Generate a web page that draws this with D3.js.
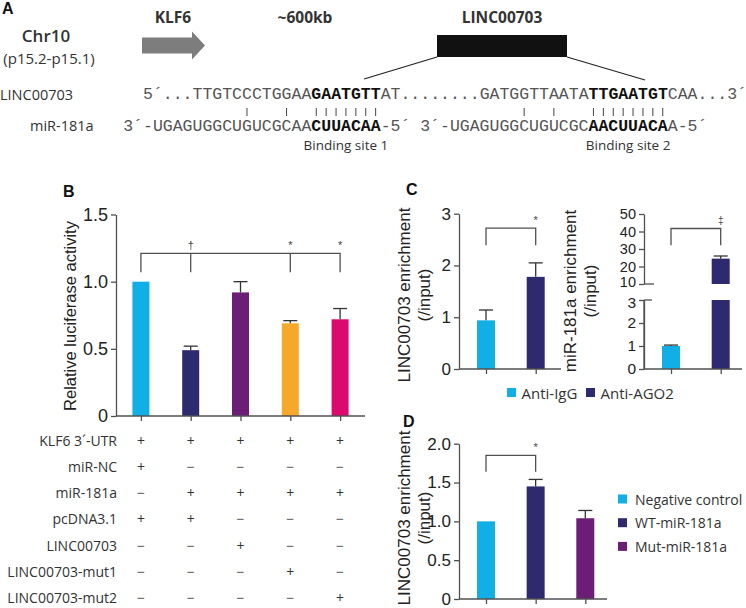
<!DOCTYPE html>
<html><head><meta charset="utf-8">
<script src="https://cdn.jsdelivr.net/npm/d3@7"></script>
<style>
body{margin:0;background:#fff;}
svg{display:block;}
.sans{font-family:"Open Sans",sans-serif;}
.arial{font-family:"Liberation Sans",Arial,sans-serif;}
.mono{font-family:"Liberation Mono",monospace;}
</style></head>
<body>
<svg id="fig" width="746" height="608"></svg>
<script>
// ---------------- data ----------------
const colors = ["#12afe6", "#2e2a70", "#6c1e77", "#f6a82a", "#dc0a6e"];

// Panel A sequences
const seqRow1 = [["5´...TTGTCCCTGGAA",0],["GAATGTT",1],["AT........GATGGTTAATA",0],["TTGAATGT",1],["CAA...3´",0]];
const seqRow2a = [["3´-UGAGUGGCUGUCGCAA",0],["CUUACAA",1],["-5´",0]];
const seqRow2b = [["3´-UGAGUGGCUGUCGC",0],["AACUUACA",1],["A-5´",0]];
const pairIdx = [10,14,17,18,19,20,21,22,23,38,41,45,46,47,48,49,50,51,52];

// Panel B
const bGroups = ["G1","G2","G3","G4","G5"];
const bValues = [1.0, 0.49, 0.92, 0.69, 0.72];
const bErrors = [0, 0.03, 0.08, 0.02, 0.08];
const bTicks = [0, 0.5, 1.0, 1.5];
const bTickLabels = ["0","0.5","1.0","1.5"];
const bSig = [null, "†", null, "*", "*"];
const rowLabels = ["KLF6 3´-UTR","miR-NC","miR-181a","pcDNA3.1","LINC00703","LINC00703-mut1","LINC00703-mut2"];
const rowSigns = [
  ["+","+","+","+","+"],
  ["+","−","−","−","−"],
  ["−","+","+","+","+"],
  ["+","+","−","−","−"],
  ["−","−","+","−","−"],
  ["−","−","−","+","−"],
  ["−","−","−","−","+"]
];

// Panel C
const cGroups = ["Anti-IgG","Anti-AGO2"];
const cLincValues = [0.94, 1.78];
const cLincErrors = [0.20, 0.27];
const cLincTicks = [0,1,2,3];
const cMirValues = [1.0, 24.5];
const cMirErrors = [0.04, 1.5];
const cMirLowTicks = [0,1,2,3];
const cMirHighTicks = [10,20,30,40,50];

// Panel D
const dGroups = ["Negative control","WT-miR-181a","Mut-miR-181a"];
const dValues = [1.0, 1.45, 1.04];
const dErrors = [0, 0.09, 0.10];
const dTicks = [0, 0.5, 1.0, 1.5, 2.0];
const dTickLabels = ["0","0.5","1.0","1.5","2.0"];

// ---------------- drawing ----------------
const svg = d3.select("#fig");
const AX = "#505050";
const TXT = "#222";

function panelLetter(t, x, y){
  svg.append("text").attr("class","arial").attr("x",x).attr("y",y)
    .attr("font-size",16).attr("font-weight","bold").attr("fill","#111").text(t);
}

// ===== Panel A =====
panelLetter("A", 2, 14);
svg.append("text").attr("class","sans").attr("x",46).attr("y",42).attr("text-anchor","middle")
  .attr("font-size",17).attr("font-weight",600).attr("fill","#333").text("Chr10");
svg.append("text").attr("class","sans").attr("x",49).attr("y",64).attr("text-anchor","middle")
  .attr("font-size",15).attr("fill","#333").text("(p15.2-p15.1)");
svg.append("text").attr("class","sans").attr("x",173).attr("y",23).attr("text-anchor","middle")
  .attr("font-size",15.5).attr("font-weight","bold").attr("fill","#333").text("KLF6");
svg.append("text").attr("class","sans").attr("x",305).attr("y",23).attr("text-anchor","middle")
  .attr("font-size",15.5).attr("font-weight","bold").attr("fill","#333").text("~600kb");
svg.append("text").attr("class","sans").attr("x",502).attr("y",23).attr("text-anchor","middle")
  .attr("font-size",15.5).attr("font-weight","bold").attr("fill","#333").text("LINC00703");
// arrow
svg.append("path").attr("d","M142,37.5 L192,37.5 L192,31.5 L205,45.5 L192,59.5 L192,53.5 L142,53.5 Z")
  .attr("fill","#7d7d7d");
// black box
svg.append("rect").attr("x",437).attr("y",35).attr("width",130).attr("height",22).attr("fill","#111");
svg.append("line").attr("x1",437).attr("y1",57).attr("x2",364).attr("y2",79).attr("stroke","#222").attr("stroke-width",1.2);
svg.append("line").attr("x1",567).attr("y1",57).attr("x2",645).attr("y2",80).attr("stroke","#222").attr("stroke-width",1.2);

svg.append("text").attr("class","sans").attr("x",0).attr("y",100).attr("font-size",14.5).attr("fill","#333").text("LINC00703");
svg.append("text").attr("class","sans").attr("x",30).attr("y",131).attr("font-size",14.5).attr("fill","#333").text("miR-181a");

const CW = 9.9, S0 = 143;
function seq(parts, x, y){
  const t = svg.append("text").attr("class","mono").attr("x",x).attr("y",y).attr("font-size",16.5);
  parts.forEach(p=>{
    t.append("tspan").attr("font-weight",p[1]?"bold":"normal").attr("fill",p[1]?"#111":"#555").text(p[0]);
  });
}
seq(seqRow1, S0, 98.5);
seq(seqRow2a, S0 - 2*CW, 131);
seq(seqRow2b, S0 + 28*CW, 131);
svg.selectAll(".pair").data(pairIdx).enter().append("line").attr("class","pair")
  .attr("x1",d=>S0+(d+0.5)*CW).attr("x2",d=>S0+(d+0.5)*CW)
  .attr("y1",108).attr("y2",116).attr("stroke","#444").attr("stroke-width",1);
svg.append("text").attr("class","sans").attr("x",S0+20.5*CW).attr("y",150).attr("text-anchor","middle")
  .attr("font-size",13.5).attr("fill","#333").text("Binding site 1");
svg.append("text").attr("class","sans").attr("x",S0+49*CW).attr("y",150).attr("text-anchor","middle")
  .attr("font-size",13.5).attr("fill","#333").text("Binding site 2");

// helpers
function styleAxis(g){
  g.selectAll("path,line").attr("stroke",AX).attr("stroke-width",1.3);
  g.selectAll("text").attr("fill",TXT).attr("font-family","'Liberation Sans',Arial,sans-serif");
}
function yAxis(scale, x, ticks, labels, fs){
  const g = svg.append("g").attr("transform",`translate(${x},0)`)
    .call(d3.axisLeft(scale).tickValues(ticks).tickSize(5).tickSizeOuter(0).tickPadding(3)
      .tickFormat((d,i)=>labels? labels[i] : d));
  styleAxis(g);
  g.selectAll("text").attr("font-size",fs);
  return g;
}
function xAxis(scale, y, x1, x2){
  const g = svg.append("g").attr("transform",`translate(0,${y})`)
    .call(d3.axisBottom(scale).tickSize(5).tickSizeOuter(0).tickFormat(""));
  g.select(".domain").remove();
  g.append("line").attr("x1",x1).attr("x2",x2).attr("y1",0).attr("y2",0);
  styleAxis(g);
  return g;
}
function bars(xs, ys, groups, vals, errs, cols, w){
  groups.forEach((gname,i)=>{
    const cx = xs(gname);
    svg.append("rect").attr("x",cx-w/2).attr("width",w)
      .attr("y",ys(vals[i])).attr("height",ys(0)-ys(vals[i])).attr("fill",cols[i]);
    if(errs[i]>0){
      const top = ys(vals[i]+errs[i]);
      svg.append("line").attr("x1",cx).attr("x2",cx).attr("y1",ys(vals[i])).attr("y2",top).attr("stroke","#333").attr("stroke-width",1.3);
      svg.append("line").attr("x1",cx-7).attr("x2",cx+7).attr("y1",top).attr("y2",top).attr("stroke","#333").attr("stroke-width",1.3);
    }
  });
}
function bracket(xList, yTop, yBot){
  const p = d3.path();
  p.moveTo(xList[0], yBot); p.lineTo(xList[0], yTop); p.lineTo(xList[xList.length-1], yTop); p.lineTo(xList[xList.length-1], yBot);
  svg.append("path").attr("d",p.toString()).attr("fill","none").attr("stroke",AX).attr("stroke-width",1.3);
  xList.slice(1,-1).forEach(x=>{
    svg.append("line").attr("x1",x).attr("x2",x).attr("y1",yTop).attr("y2",yBot).attr("stroke",AX).attr("stroke-width",1.3);
  });
}
function sigText(t, x, y, fs){
  svg.append("text").attr("class","arial").attr("x",x).attr("y",y).attr("text-anchor","middle")
    .attr("font-size",fs||11).attr("fill","#444").text(t);
}
function rotLabel(lines, x0, dx, cy, fs){
  lines.forEach((l,i)=>{
    svg.append("text").attr("class","arial").attr("transform",`translate(${x0+i*dx},${cy}) rotate(-90)`)
      .attr("text-anchor","middle").attr("dominant-baseline","central")
      .attr("font-size",fs).attr("fill",TXT).text(l);
  });
}

// ===== Panel B =====
panelLetter("B", 63, 197);
const xB = d3.scalePoint().domain(bGroups).range([116,365]).padding(0.5);
const yB = d3.scaleLinear().domain([0,1.5]).range([416,214.5]);
bars(xB, yB, bGroups, bValues, bErrors, colors, 17);
yAxis(yB, 116, bTicks, bTickLabels, 18);
xAxis(xB, 416, 116, 365);
rotLabel(["Relative luciferase activity"], 70, 0, 316, 16.5);
const bSigX = bGroups.filter((g,i)=>i===0 || bSig[i]).map(g=>xB(g));
bracket(bSigX, yB(1.21), yB(1.07));
bGroups.forEach((g,i)=>{ if(bSig[i]) sigText(bSig[i], xB(g), yB(1.21)-4, 11); });
// table
rowLabels.forEach((lab,r)=>{
  const y = 440 + r*26.3;
  svg.append("text").attr("class","sans").attr("x",117).attr("y",y).attr("text-anchor","end")
    .attr("dominant-baseline","central").attr("font-size",14).attr("fill","#333").text(lab);
  rowSigns[r].forEach((s,c)=>{
    svg.append("text").attr("class","sans").attr("x",xB(bGroups[c])).attr("y",y).attr("text-anchor","middle")
      .attr("dominant-baseline","central").attr("font-size",14).attr("fill",s==="+"?"#333":"#555").text(s);
  });
});

// ===== Panel C =====
panelLetter("C", 406, 195);
const xC1 = d3.scalePoint().domain(cGroups).range([486,535.7]);
const yC1 = d3.scaleLinear().domain([0,3]).range([369,213.7]);
bars(xC1, yC1, cGroups, cLincValues, cLincErrors, [colors[0],colors[1]], 18);
yAxis(yC1, 459, cLincTicks, null, 17);
xAxis(xC1, 369, 459, 561);
bracket([xC1(cGroups[0]), xC1(cGroups[1])], yC1(2.72), yC1(2.39));
sigText("*", xC1(cGroups[1]), 224, 11);
rotLabel(["LINC00703 enrichment","(/input)"], 404, 20, 295, 17);

// broken axis chart
const xC2 = d3.scalePoint().domain(cGroups).range([671,720.7]);
const yLow = d3.scaleLinear().domain([0,3]).range([369,300]);
const yHigh = d3.scaleLinear().domain([10,50]).range([284,214]);
{
  const cx0 = xC2(cGroups[0]), cx1 = xC2(cGroups[1]), w = 18;
  svg.append("rect").attr("x",cx0-w/2).attr("width",w).attr("y",yLow(cMirValues[0])).attr("height",yLow(0)-yLow(cMirValues[0])).attr("fill",colors[0]);
  const t0 = yLow(cMirValues[0]+cMirErrors[0]);
  svg.append("line").attr("x1",cx0).attr("x2",cx0).attr("y1",yLow(cMirValues[0])).attr("y2",t0).attr("stroke","#333").attr("stroke-width",1.3);
  svg.append("line").attr("x1",cx0-7).attr("x2",cx0+7).attr("y1",t0).attr("y2",t0).attr("stroke","#333").attr("stroke-width",1.3);
  svg.append("rect").attr("x",cx1-w/2).attr("width",w).attr("y",yLow(3)).attr("height",yLow(0)-yLow(3)).attr("fill",colors[1]);
  svg.append("rect").attr("x",cx1-w/2).attr("width",w).attr("y",yHigh(cMirValues[1])).attr("height",yHigh(10)-yHigh(cMirValues[1])).attr("fill",colors[1]);
  const t1 = yHigh(cMirValues[1]+cMirErrors[1]);
  svg.append("line").attr("x1",cx1).attr("x2",cx1).attr("y1",yHigh(cMirValues[1])).attr("y2",t1).attr("stroke","#333").attr("stroke-width",1.3);
  svg.append("line").attr("x1",cx1-7).attr("x2",cx1+7).attr("y1",t1).attr("y2",t1).attr("stroke","#333").attr("stroke-width",1.3);
}
const gLow = yAxis(yLow, 644, cMirLowTicks, null, 15.5);
gLow.append("path").attr("d",`M0,${yLow(0)}V${yLow(3)}`).attr("stroke",AX).attr("stroke-width",1.3);
gLow.append("line").attr("x1",0).attr("x2",8).attr("y1",yLow(3)).attr("y2",yLow(3)).attr("stroke",AX).attr("stroke-width",1.3);
gLow.selectAll(".tick text").filter(d=>d===3).attr("dy","0.5em");
const gHigh = yAxis(yHigh, 644, cMirHighTicks, null, 14.5);
gHigh.append("line").attr("x1",0).attr("x2",10).attr("y1",yHigh(10)).attr("y2",yHigh(10)).attr("stroke",AX).attr("stroke-width",1.3);
gHigh.selectAll(".tick text").filter(d=>d===10).attr("dy","0.2em");
xAxis(xC2, 369, 644, 742);
bracket([xC2(cGroups[0]), xC2(cGroups[1])], 228.5, 245.3);
sigText("‡", xC2(cGroups[1]), 224, 10);
rotLabel(["miR-181a enrichment","(/input)"], 570, 20, 291, 17);

// legend C
cGroups.forEach((g,i)=>{
  const x = [507,586][i];
  svg.append("rect").attr("x",x).attr("y",388).attr("width",9).attr("height",9).attr("fill",colors[i]);
  svg.append("text").attr("class","sans").attr("x",x+14.5).attr("y",393).attr("dominant-baseline","central")
    .attr("font-size",15).attr("fill","#333").text(g);
});

// ===== Panel D =====
panelLetter("D", 403, 427);
const xD = d3.scalePoint().domain(dGroups).range([486,585.3]);
const yD = d3.scaleLinear().domain([0,2]).range([599,443.7]);
bars(xD, yD, dGroups, dValues, dErrors, [colors[0],colors[1],colors[2]], 18);
yAxis(yD, 459, dTicks, dTickLabels, 17);
xAxis(xD, 599, 459, 607);
bracket([xD(dGroups[0]), xD(dGroups[1])], yD(1.85), yD(1.64));
sigText("*", xD(dGroups[1]), 451, 11);
rotLabel(["LINC00703 enrichment","(/input)"], 404, 20, 518, 17);
dGroups.forEach((g,i)=>{
  const y = 499 + i*23.7;
  svg.append("rect").attr("x",618).attr("y",y-4.5).attr("width",9).attr("height",9).attr("fill",colors[i]);
  svg.append("text").attr("class","sans").attr("x",635).attr("y",y).attr("dominant-baseline","central")
    .attr("font-size",14).attr("fill","#333").text(g);
});
</script>
</body></html>
